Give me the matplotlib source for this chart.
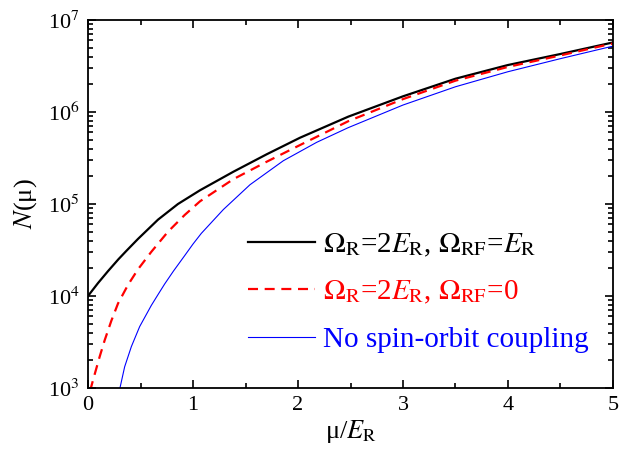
import matplotlib
matplotlib.use("Agg")
import matplotlib.pyplot as plt
import numpy as np

plt.rcParams['font.family'] = ['Liberation Serif', 'DejaVu Serif']
plt.rcParams['mathtext.fontset'] = 'stix'

# Data (x in units of E_R, N values)
x_black = [0.0, 0.095, 0.19, 0.29, 0.365, 0.476, 0.667, 0.857, 1.067, 1.384, 1.702,
           2.019, 2.479, 3.0, 3.5, 4.0, 4.5, 5.0]
n_black = [1.0e4, 1.38e4, 1.86e4, 2.51e4, 3.09e4, 4.17e4, 6.76e4, 1.0e5, 1.41e5, 2.24e5,
           3.47e5, 5.25e5, 8.9e5, 1.48e6, 2.3e6, 3.24e6, 4.27e6, 5.7e6]

x_red = [0.02, 0.048, 0.111, 0.159, 0.222, 0.286, 0.381, 0.476, 0.603, 0.762, 0.921,
         1.067, 1.384, 1.702, 2.019, 2.479, 3.0, 3.5, 4.0, 4.5, 5.0]
n_red = [9.3e2, 1.22e3, 2.19e3, 3.31e3, 5.37e3, 8.3e3, 1.32e4, 1.95e4, 3.02e4, 5.0e4,
         7.6e4, 1.07e5, 1.86e5, 2.88e5, 4.37e5, 7.94e5, 1.38e6, 2.19e6, 3.09e6, 4.12e6, 5.56e6]

x_blue = [0.30, 0.349, 0.413, 0.492, 0.603, 0.67, 0.73, 0.813, 0.921, 1.0, 1.079, 1.289,
          1.543, 1.86, 2.178, 2.479, 3.0, 3.5, 4.0, 4.5, 5.0]
n_blue = [9.5e2, 1.7e3, 2.82e3, 4.65e3, 7.9e3, 1.05e4, 1.35e4, 1.86e4, 2.75e4, 3.67e4,
          4.79e4, 8.7e4, 1.62e5, 2.95e5, 4.68e5, 6.76e5, 1.19e6, 1.88e6, 2.74e6, 3.8e6, 5.2e6]

labels = [r'$\Omega_{\rm R}$=2$E_{\rm R}$, $\Omega_{\rm RF}$=$E_{\rm R}$',
          r'$\Omega_{\rm R}$=2$E_{\rm R}$, $\Omega_{\rm RF}$=0',
          'No spin-orbit coupling']
colors = ['black', 'red', 'blue']

fig = plt.figure(figsize=(6.3, 4.49), dpi=100)
ax = fig.add_axes([0.1397, 0.1359, 0.8333, 0.8196])

ax.plot(x_black, n_black, color=colors[0], lw=1.6, label=labels[0])
ax.plot(x_red, n_red, color=colors[1], lw=1.6, dashes=(4.5, 3.0), label=labels[1])
ax.plot(x_blue, n_blue, color=colors[2], lw=0.8, label=labels[2])

ax.set_yscale('log')
ax.set_xlim(0, 5)
ax.set_ylim(1e3, 1e7)
ax.set_xticks([0, 1, 2, 3, 4, 5])
ax.set_xticks([0.5, 1.5, 2.5, 3.5, 4.5], minor=True)
ax.set_xticklabels(['0', '1', '2', '3', '4', '5'])
ax.set_yticks([1e3, 1e4, 1e5, 1e6, 1e7])
ax.set_yticklabels([r'10$^3$', r'10$^4$', r'10$^5$', r'10$^6$', r'10$^7$'])
ax.yaxis.set_minor_locator(matplotlib.ticker.LogLocator(base=10, subs=np.arange(2, 10)))
ax.yaxis.set_minor_formatter(matplotlib.ticker.NullFormatter())

ax.tick_params(which='both', direction='in', top=True, right=True, width=1.2)
ax.tick_params(which='major', length=6, labelsize=16, pad=6)
ax.tick_params(which='minor', length=3.5)
for s in ax.spines.values():
    s.set_linewidth(1.3)

ax.set_xlabel(r'μ/$E_{\rm R}$', fontsize=19, labelpad=2)
ax.set_ylabel(r'$N$(μ)', fontsize=19, labelpad=6)

leg = ax.legend(loc='upper left', bbox_to_anchor=(0.305, 0.425), frameon=False,
                fontsize=21, handlelength=2.3, handletextpad=0.25,
                labelspacing=0.69, borderpad=0, borderaxespad=0)
for t, c in zip(leg.get_texts(), colors):
    t.set_color(c)

fig.savefig('out.png', dpi=100)
